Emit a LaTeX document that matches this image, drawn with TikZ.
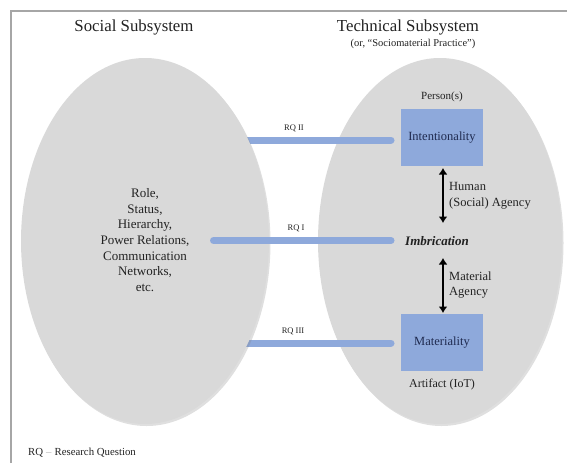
\documentclass[tikz,border=0pt]{standalone}
\usepackage{fontspec}
\setmainfont{Liberation Serif}
\newfontfamily\tnr{Liberation Serif}
\usetikzlibrary{shapes.geometric,arrows.meta,shadows}
\definecolor{ellgray}{HTML}{D9D9D9}
\definecolor{boxblue}{HTML}{8EA9DB}
\definecolor{navy}{HTML}{1F2A4F}
\definecolor{txt}{HTML}{222222}
\tikzset{
  subsys/.style={ellipse, fill=ellgray, draw=none, inner sep=0pt,
    drop shadow={shadow xshift=1.5pt, shadow yshift=-2pt, opacity=0.25}},
  bluebox/.style={rectangle, fill=boxblue, minimum width=82pt, minimum height=57pt,
    text=navy, font=\tnr\fontsize{12.5}{14}\selectfont, inner sep=0pt},
  rqbar/.style={line width=7pt, draw=boxblue, line cap=round},
  rqlabel/.style={font=\tnr\fontsize{8.5}{10}\selectfont, text=txt, inner sep=0pt},
  agency/.style={line width=1.7pt, {Latex[length=6.5pt,width=9pt]}-{Latex[length=6.5pt,width=9pt]}},
  lbl/.style={text=txt, inner sep=0pt},
}
\begin{document}
\begin{tikzpicture}[x=1pt,y=-1pt]
\useasboundingbox (0,0) rectangle (567,463);
% frame
\draw[gray!70, line width=1.2pt] (11,463) -- (11,11) -- (567,11);
% titles
\node[lbl, font=\tnr\fontsize{16.8}{18}\selectfont] (t1) at (134,27) {Social Subsystem};
\node[lbl, font=\tnr\fontsize{16.8}{18}\selectfont] (t2) at (408,27) {Technical Subsystem};
\node[lbl, font=\tnr\fontsize{10.5}{12}\selectfont] (t3) at (413,44) {(or, “Sociomaterial Practice”)};
% right ellipse
\node[subsys, minimum width=244pt, minimum height=366pt] (tech) at (440,241) {};
% boxes
\node[bluebox] (int) at (442,137.5) {Intentionality};
\node[bluebox] (mat) at (442,342.5) {Materiality};
\node[lbl, font=\tnr\fontsize{11}{13}\selectfont] (pers) at (442,97) {Person(s)};
\node[lbl, font=\tnr\fontsize{12}{14}\selectfont] (art) at (442,385) {Artifact (IoT)};
\node[lbl, font=\tnr\fontsize{13}{15}\selectfont\bfseries\itshape] (imb) at (437,241) {Imbrication};
% RQ II and III bars (behind the left ellipse)
\coordinate (b2s) at (235,140);
\coordinate (b2e) at (391,140);
\coordinate (b3s) at (235,343);
\coordinate (b3e) at (391,343);
\draw[rqbar] (b2s) -- (b2e);
\draw[rqbar] (b3s) -- (b3e);
% left ellipse
\node[subsys, minimum width=248pt, minimum height=366pt] (soc) at (145,241) {};
\node[lbl, align=center, font=\tnr\fontsize{13}{15.7}\selectfont] (roles) at (145,240)
  {Role,\\Status,\\Hierarchy,\\Power Relations,\\Communication\\Networks,\\etc.};
% RQ I bar
\coordinate (b1s) at (213.5,240.5);
\coordinate (b1e) at (391,240.5);
\draw[rqbar] (b1s) -- (b1e);
% RQ labels
\node[rqlabel] (rq2) at (294,128) {RQ II};
\node[rqlabel] (rq1) at (296,228) {RQ I};
\node[rqlabel] (rq3) at (293,331) {RQ III};
% agency arrows
\coordinate (a1t) at (443,168);
\coordinate (a1b) at (443,223);
\coordinate (a2t) at (443,258);
\coordinate (a2b) at (443,313);
\draw[agency] (a1t) -- (a1b);
\draw[agency] (a2t) -- (a2b);
\node[lbl, anchor=west, align=left, font=\tnr\fontsize{12.5}{15.5}\selectfont] (hum) at (449,196)
  {Human\\(Social) Agency};
\node[lbl, anchor=west, align=left, font=\tnr\fontsize{12.5}{15.5}\selectfont] (mag) at (449,285)
  {Material\\Agency};
% legend
\node[lbl, anchor=west, font=\tnr\fontsize{10.8}{12}\selectfont] (leg) at (28,453)
  {RQ\hspace{3pt}\textcolor{gray!60}{–}\hspace{3pt}Research Question};
\end{tikzpicture}
\end{document}
